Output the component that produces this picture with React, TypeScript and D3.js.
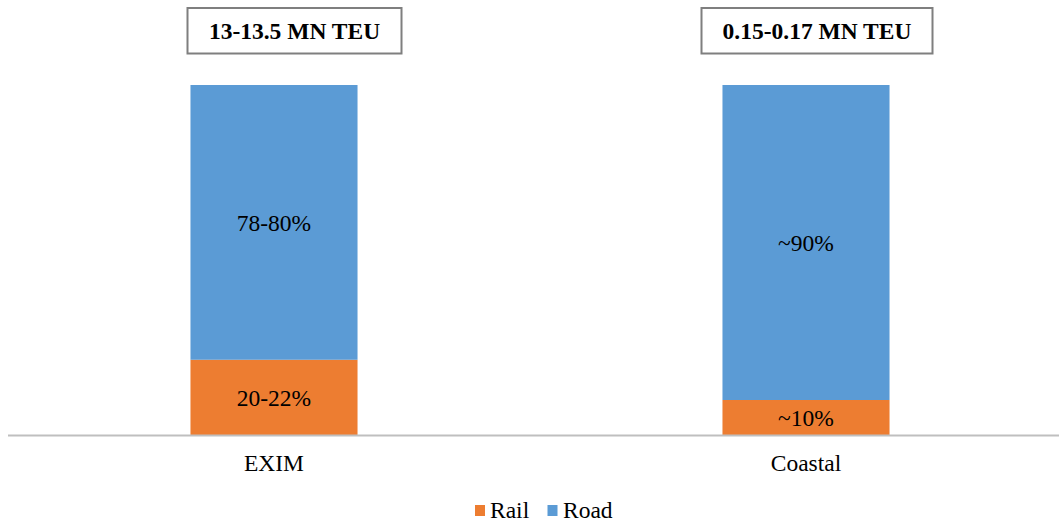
import React from "react";
import * as d3 from "d3";

const categories = ["EXIM", "Coastal"];
const railValues = [21.5, 10];
const roadValues = [78.5, 90];
const railLabels = ["20-22%", "~10%"];
const roadLabels = ["78-80%", "~90%"];
const volumeLabels = ["13-13.5 MN TEU", "0.15-0.17 MN TEU"];
const seriesNames = ["Rail", "Road"];

const W = 1059;
const H = 523;
const COLORS: Record<string, string> = { Rail: "#ED7D31", Road: "#5B9BD5" };
const FONT = '"Liberation Serif", "DejaVu Serif", "Times New Roman", serif';
const FS = 23.5;
const TS: React.CSSProperties = { fontFamily: FONT, fontSize: FS };
// layout-only tweaks for the volume boxes
const boxShift = [20.5, 11];
const boxWidth = [214, 231];

export default function App() {
  const x = d3.scaleBand<string>().domain(categories).range([8, 1072]).padding(0);
  const y = d3.scaleLinear().domain([0, 100]).range([435, 85]);
  const barW = x.bandwidth() * 0.314;

  const rows = categories.map((c, i) => ({ cat: c, Rail: railValues[i], Road: roadValues[i] }));
  const stack = d3.stack<any>().keys(seriesNames)(rows);
  const labels: Record<string, string[]> = { Rail: railLabels, Road: roadLabels };

  return (
    <svg width={W} height={H} style={{ position: "absolute", left: 0, top: 0, display: "block", background: "#fff", fontFamily: FONT }}>
      {stack.map((s) =>
        s.map((d, i) => {
          const cx = (x(categories[i]) as number) + x.bandwidth() / 2;
          const y0 = y(d[0]);
          const y1 = y(d[1]);
          return (
            <g key={s.key + i}>
              <rect x={cx - barW / 2} y={y1} width={barW} height={y0 - y1} fill={COLORS[s.key]} />
              <text x={cx} y={(y0 + y1) / 2} dy="0.35em" textAnchor="middle" style={TS} fill="#000">
                {labels[s.key][i]}
              </text>
            </g>
          );
        })
      )}
      <line x1={8} x2={W} y1={435.5} y2={435.5} stroke="#BFBFBF" strokeWidth={2} />
      {categories.map((c) => {
        const cx = (x(c) as number) + x.bandwidth() / 2;
        return (
          <text key={c} x={cx} y={470.5} textAnchor="middle" style={TS} fill="#000">
            {c}
          </text>
        );
      })}
      {categories.map((c, i) => {
        const cx = (x(c) as number) + x.bandwidth() / 2 + boxShift[i];
        return (
          <g key={"box" + c}>
            <rect x={cx - boxWidth[i] / 2} y={8} width={boxWidth[i]} height={45.5} fill="#fff" stroke="#7F7F7F" strokeWidth={2} />
            <text x={cx} y={38.5} textAnchor="middle" style={{ ...TS, fontWeight: "bold" }} fill="#000">
              {volumeLabels[i]}
            </text>
          </g>
        );
      })}
      <g>
        <rect x={475} y={505} width={10} height={11} fill={COLORS.Rail} />
        <text x={490} y={518} style={TS} fill="#000">Rail</text>
        <rect x={547.5} y={505} width={10} height={11} fill={COLORS.Road} />
        <text x={563} y={518} style={TS} fill="#000">Road</text>
      </g>
    </svg>
  );
}
